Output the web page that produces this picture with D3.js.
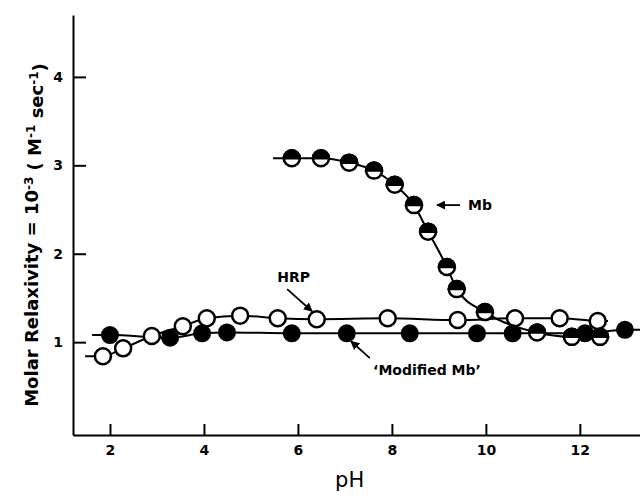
<!DOCTYPE html>
<html>
<head>
<meta charset="utf-8">
<script src="https://cdn.jsdelivr.net/npm/d3@7"></script>
<style>
  body { margin: 0; background: #fff; }
  svg { display: block; }
  text { font-family: "DejaVu Sans", sans-serif; font-weight: bold; fill: #000; }
  .tick text { font-size: 14px; }
  .axis path, .axis line { stroke: #000; stroke-width: 2; }
</style>
</head>
<body>
<svg width="640" height="496"></svg>
<script>
// pH ticks / relaxivity ticks
var phTicks = [2, 4, 6, 8, 10, 12]
var relTicks = [1, 2, 3, 4]

// Mb (half filled circles)
var mbPH  = [5.87, 6.49, 7.09, 7.62, 8.06, 8.47, 8.77, 9.17, 9.38, 9.98, 11.09, 11.83, 12.43]
var mbRel = [3.08, 3.08, 3.03, 2.94, 2.78, 2.55, 2.25, 1.85, 1.60, 1.34, 1.11, 1.06, 1.06]
var mbLine = [5.47, 12.6]

// HRP (open circles)
var hrpPH  = [1.85, 2.28, 2.89, 3.55, 4.06, 4.77, 5.57, 6.40, 7.91, 9.40, 10.62, 11.57, 12.38]
var hrpRel = [0.84, 0.93, 1.07, 1.18, 1.27, 1.30, 1.27, 1.26, 1.27, 1.25, 1.27, 1.27, 1.24]
var hrpLine = [1.47, 12.6]

// 'Modified Mb' (filled circles)
var modPH  = [2.0, 3.28, 3.96, 4.49, 5.87, 7.04, 8.38, 9.81, 10.57, 12.11, 12.96]
var modRel = [1.08, 1.05, 1.10, 1.11, 1.10, 1.10, 1.10, 1.10, 1.10, 1.10, 1.14]
var modLine = [1.62, 13.28]

var svg = d3.select("svg")

var x = d3.scaleLinear().domain([1.213, 13.28]).range([73, 640])
var y = d3.scaleLinear().domain([-0.05, 4.7]).range([435, 15])

svg.append("g")
  .attr("class", "axis")
  .attr("transform", "translate(0,435)")
  .call(d3.axisBottom(x).tickValues(phTicks).tickSize(-11).tickSizeOuter(0).tickPadding(10).tickFormat(d3.format("d")))

svg.append("g")
  .attr("class", "axis")
  .attr("transform", "translate(73,0)")
  .call(d3.axisLeft(y).tickValues(relTicks).tickSize(-13).tickSizeOuter(0).tickPadding(10).tickFormat(d3.format("d")))

svg.append("text")
  .attr("x", x(7.1))
  .attr("y", 487)
  .attr("text-anchor", "middle")
  .style("font-size", "21px")
  .style("font-weight", "normal")
  .text("pH")

var ylab = svg.append("text")
  .attr("transform", "translate(38,235) rotate(-90)")
  .attr("text-anchor", "middle")
  .style("font-size", "18px")
ylab.append("tspan").text("Molar Relaxivity = 10")
ylab.append("tspan").attr("dy", "-0.45em").style("font-size", "12px").text("-3")
ylab.append("tspan").attr("dy", "0.45em").text(" ( M")
ylab.append("tspan").attr("dy", "-0.45em").style("font-size", "12px").text("-1")
ylab.append("tspan").attr("dy", "0.45em").text(" sec")
ylab.append("tspan").attr("dy", "-0.45em").style("font-size", "12px").text("-1")
ylab.append("tspan").attr("dy", "0.45em").text(")")

function series(ph, rel, ends) {
  var pts = ph.map((p, i) => [p, rel[i]])
  pts.unshift([ends[0], rel[0]])
  pts.push([ends[1], rel[rel.length - 1]])
  return pts
}

var line = d3.line()
  .x(d => x(d[0]))
  .y(d => y(d[1]))
  .curve(d3.curveMonotoneX)

;[series(hrpPH, hrpRel, hrpLine), series(modPH, modRel, modLine), series(mbPH, mbRel, mbLine)].forEach(function(pts){
  svg.append("path")
    .attr("d", line(pts))
    .attr("fill", "none")
    .attr("stroke", "#000")
    .attr("stroke-width", 2)
})

var r = 8

// open circles
hrpPH.forEach(function(p, i){
  svg.append("circle")
    .attr("cx", x(p)).attr("cy", y(hrpRel[i])).attr("r", r)
    .attr("fill", "#fff").attr("stroke", "#000").attr("stroke-width", 2.5)
})

// filled circles
modPH.forEach(function(p, i){
  svg.append("circle")
    .attr("cx", x(p)).attr("cy", y(modRel[i])).attr("r", r + 1)
    .attr("fill", "#000")
})

// half filled circles
mbPH.forEach(function(p, i){
  var g = svg.append("g").attr("transform", "translate(" + x(p) + "," + y(mbRel[i]) + ")")
  g.append("circle").attr("r", r).attr("fill", "#fff").attr("stroke", "#000").attr("stroke-width", 2.5)
  g.append("path")
    .attr("d", "M" + (-r) + ",0A" + r + "," + r + " 0 0 1 " + r + ",0Z")
    .attr("fill", "#000").attr("stroke", "#000").attr("stroke-width", 2.5)
})

// arrows
svg.append("defs").append("marker")
  .attr("id", "head")
  .attr("viewBox", "0 0 10 10")
  .attr("refX", 9).attr("refY", 5)
  .attr("markerWidth", 9).attr("markerHeight", 9)
  .attr("markerUnits", "userSpaceOnUse")
  .attr("orient", "auto")
  .append("path").attr("d", "M0,0L10,5L0,10Z").attr("fill", "#000")

function arrow(p0, v0, p1, v1) {
  svg.append("line")
    .attr("x1", x(p0)).attr("y1", y(v0))
    .attr("x2", x(p1)).attr("y2", y(v1))
    .attr("stroke", "#000").attr("stroke-width", 1.8)
    .attr("marker-end", "url(#head)")
}

arrow(9.45, 2.55, 8.96, 2.55)
svg.append("text").attr("x", x(9.62)).attr("y", y(2.55)).attr("dy", "0.36em")
  .style("font-size", "14px").text("Mb")

arrow(5.77, 1.60, 6.30, 1.35)
svg.append("text").attr("x", x(5.91)).attr("y", y(1.74)).attr("dy", "0.36em")
  .attr("text-anchor", "middle").style("font-size", "14px").text("HRP")

arrow(7.53, 0.82, 7.13, 1.01)
svg.append("text").attr("x", x(7.6)).attr("y", y(0.69)).attr("dy", "0.36em")
  .style("font-size", "14px").text("‘Modified Mb’")
</script>
</body>
</html>
